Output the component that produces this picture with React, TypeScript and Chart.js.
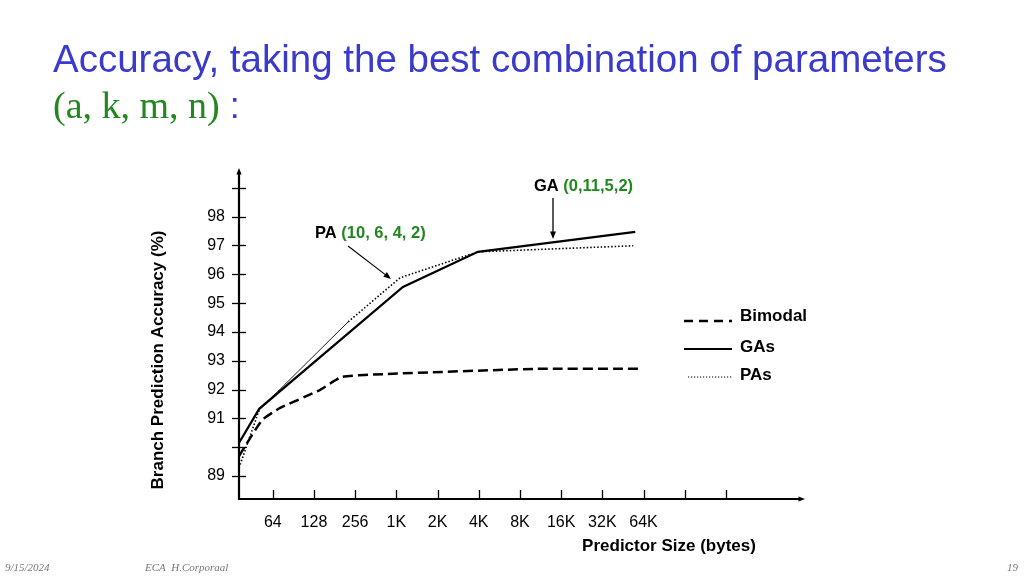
import React, { useEffect, useRef } from 'react';
import { Chart, registerables } from 'chart.js';
Chart.register(...registerables);

// ---- data ----
const xTickValues = [0, 1, 2, 3, 4, 5, 6, 7, 8, 9, 10, 11];
const xTickLabels = ['64', '128', '256', '1K', '2K', '4K', '8K', '16K', '32K', '64K', '', ''];
const yTickValues = [89, 90, 91, 92, 93, 94, 95, 96, 97, 98, 99];
const yTickLabels = ['89', '', '91', '92', '93', '94', '95', '96', '97', '98', ''];

const gaX = [-0.82, -0.33, 3.16, 4.98, 8.8];
const gaY = [90.15, 91.33, 95.56, 96.78, 97.47];
const paX = [-0.82, -0.33, 1.83, 3.09, 4.98, 8.75];
const paY = [89.28, 91.29, 94.35, 95.88, 96.78, 96.99];
const biX = [-0.82, -0.26, 0.18, 1.15, 1.68, 2.78, 6.42, 8.97];
const biY = [89.69, 90.94, 91.36, 91.99, 92.44, 92.54, 92.72, 92.72];

const seriesNames = ['Bimodal', 'GAs', 'PAs'];

const SANS = '"Liberation Sans", Arial, Helvetica, sans-serif';
const SERIF = '"Liberation Serif", "Times New Roman", serif';
const GREEN = '#21871f';
const BLUE = '#3a3acb';

function pts(xs: number[], ys: number[]) {
  return xs.map((x, i) => ({ x, y: ys[i] }));
}

function arrow(ctx: CanvasRenderingContext2D, x1: number, y1: number, x2: number, y2: number, head: number, width: number) {
  const a = Math.atan2(y2 - y1, x2 - x1);
  ctx.save();
  ctx.strokeStyle = '#000';
  ctx.fillStyle = '#000';
  ctx.lineWidth = width;
  ctx.setLineDash([]);
  ctx.beginPath();
  ctx.moveTo(x1, y1);
  ctx.lineTo(x2 - Math.cos(a) * head * 0.8, y2 - Math.sin(a) * head * 0.8);
  ctx.stroke();
  ctx.beginPath();
  ctx.moveTo(x2, y2);
  ctx.lineTo(x2 - head * Math.cos(a - 0.38), y2 - head * Math.sin(a - 0.38));
  ctx.lineTo(x2 - head * Math.cos(a + 0.38), y2 - head * Math.sin(a + 0.38));
  ctx.closePath();
  ctx.fill();
  ctx.restore();
}

const decorPlugin = {
  id: 'decor',
  afterDraw(chart: any) {
    const ctx: CanvasRenderingContext2D = chart.ctx;
    const xs = chart.scales.x;
    const ys = chart.scales.y;
    const { left, right, top, bottom } = chart.chartArea;
    ctx.save();
    // axes
    arrow(ctx, left, bottom + 1, left, top, 7, 2.2);
    arrow(ctx, left - 1, bottom, right, bottom, 7, 2.2);
    ctx.strokeStyle = '#000';
    ctx.lineWidth = 1.3;
    yTickValues.forEach((v) => {
      const y = Math.round(ys.getPixelForValue(v)) + 0.5;
      ctx.beginPath();
      ctx.moveTo(left - 7, y);
      ctx.lineTo(left + 7, y);
      ctx.stroke();
    });
    xTickValues.forEach((v) => {
      const x = Math.round(xs.getPixelForValue(v)) + 0.5;
      ctx.beginPath();
      ctx.moveTo(x, bottom - 9);
      ctx.lineTo(x, bottom);
      ctx.stroke();
    });

    // axis titles
    ctx.fillStyle = '#000';
    ctx.font = `bold 17px ${SANS}`;
    ctx.textBaseline = 'middle';
    ctx.textAlign = 'center';
    ctx.fillText('Predictor Size (bytes)', 669, 546);
    ctx.save();
    ctx.translate(158, 360);
    ctx.rotate(-Math.PI / 2);
    ctx.fillText('Branch Prediction Accuracy (%)', 0, 0);
    ctx.restore();

    // annotations
    ctx.textAlign = 'left';
    ctx.font = `bold 16.5px ${SANS}`;
    const drawLabel = (x: number, y: number, a: string, b: string) => {
      ctx.fillStyle = '#000';
      ctx.fillText(a, x, y);
      const w = ctx.measureText(a + ' ').width;
      ctx.fillStyle = GREEN;
      ctx.fillText(b, x + w, y);
    };
    drawLabel(534, 186, 'GA', '(0,11,5,2)');
    drawLabel(315, 233, 'PA', '(10, 6, 4, 2)');
    arrow(ctx, 553, 198, 553, 239, 8, 1.3);
    arrow(ctx, 348, 246, 391, 279, 8, 1.1);

    // legend
    const lx1 = 684, lx2 = 732;
    ctx.lineCap = 'butt';
    ctx.strokeStyle = '#000';
    ctx.lineWidth = 2.3;
    ctx.setLineDash([9, 6]);
    ctx.beginPath(); ctx.moveTo(lx1, 321); ctx.lineTo(lx2, 321); ctx.stroke();
    ctx.setLineDash([]);
    ctx.lineWidth = 2;
    ctx.beginPath(); ctx.moveTo(lx1, 349); ctx.lineTo(lx2, 349); ctx.stroke();
    ctx.lineWidth = 1.2;
    ctx.setLineDash([1.2, 1.8]);
    ctx.beginPath(); ctx.moveTo(lx1 + 4, 377); ctx.lineTo(lx2, 377); ctx.stroke();
    ctx.setLineDash([]);
    ctx.fillStyle = '#000';
    ctx.font = `bold 17px ${SANS}`;
    ctx.fillText(seriesNames[0], 740, 316);
    ctx.fillText(seriesNames[1], 740, 347);
    ctx.fillText(seriesNames[2], 740, 375);
    ctx.restore();
  },
};

export default function App() {
  const ref = useRef<HTMLCanvasElement | null>(null);
  useEffect(() => {
    if (!ref.current) return;
    const chart = new Chart(ref.current, {
      type: 'line',
      data: {
        datasets: [
          {
            label: seriesNames[0],
            data: pts(biX, biY),
            borderColor: '#000',
            borderWidth: 2.5,
            borderDash: [10, 5],
            pointRadius: 0,
            tension: 0.15,
            fill: false,
          },
          {
            label: seriesNames[1],
            data: pts(gaX, gaY),
            borderColor: '#000',
            borderWidth: 2.2,
            pointRadius: 0,
            tension: 0,
            fill: false,
          },
          {
            label: seriesNames[2],
            data: pts(paX, paY),
            borderColor: '#000',
            borderWidth: 1.6,
            borderDash: [1.5, 2],
            pointRadius: 0,
            tension: 0,
            fill: false,
            segment: {
              borderDash: (c: any) => (c.p0DataIndex === 1 ? [] : [1.5, 2]),
              borderWidth: (c: any) => (c.p0DataIndex === 1 ? 0.9 : 1.6),
            },
          } as any,
        ],
      },
      options: {
        animation: false,
        responsive: false,
        events: [],
        layout: { padding: { left: 0, top: 168, right: 219, bottom: 0 } },
        plugins: { legend: { display: false }, tooltip: { enabled: false } },
        scales: {
          x: {
            type: 'linear',
            min: -0.82,
            max: 12.92,
            grid: { display: false, drawTicks: false },
            border: { display: false },
            afterBuildTicks: (s: any) => {
              s.ticks = xTickValues.map((v) => ({ value: v }));
            },
            afterFit: (s: any) => {
              s.height = 77;
            },
            ticks: {
              autoSkip: false,
              maxRotation: 0,
              padding: 14,
              color: '#000',
              font: { family: SANS, size: 16 },
              callback: (_v: any, i: number) => xTickLabels[i],
            },
          },
          y: {
            type: 'linear',
            min: 88.2,
            max: 99.69,
            grid: { display: false, drawTicks: false },
            border: { display: false },
            afterBuildTicks: (s: any) => {
              s.ticks = yTickValues.map((v) => ({ value: v }));
            },
            afterFit: (s: any) => {
              s.width = 239;
            },
            ticks: {
              autoSkip: false,
              padding: 14,
              color: '#000',
              font: { family: SANS, size: 16 },
              callback: (_v: any, i: number) => yTickLabels[i],
            },
          },
        },
      },
      plugins: [decorPlugin],
    });
    return () => chart.destroy();
  }, []);

  const foot: React.CSSProperties = {
    position: 'absolute',
    top: 561,
    fontFamily: SERIF,
    fontStyle: 'italic',
    fontSize: 11,
    color: '#777',
    lineHeight: '12px',
    whiteSpace: 'nowrap',
  };

  return (
    <div style={{ position: 'absolute', left: 0, top: 0, width: 1024, height: 576, background: '#fff', overflow: 'hidden' }}>
      <canvas ref={ref} width={1024} height={576} style={{ position: 'absolute', left: 0, top: 0, display: 'block' }} />
      <div
        style={{
          position: 'absolute',
          left: 53,
          top: 40,
          fontFamily: SANS,
          fontSize: 38.5,
          lineHeight: '38px',
          color: BLUE,
          whiteSpace: 'nowrap',
        }}
      >
        Accuracy, taking the best combination of parameters
      </div>
      <div style={{ position: 'absolute', left: 53, top: 86, lineHeight: '38px', whiteSpace: 'nowrap' }}>
        <span style={{ fontFamily: SERIF, fontSize: 38, color: GREEN }}>(a, k, m, n)</span>
        <span style={{ fontFamily: SANS, fontSize: 36, color: BLUE }}> :</span>
      </div>
      <div style={{ ...foot, left: 5 }}>9/15/2024</div>
      <div style={{ ...foot, left: 145 }}>ECA&nbsp; H.Corporaal</div>
      <div style={{ ...foot, left: 1007 }}>19</div>
    </div>
  );
}
